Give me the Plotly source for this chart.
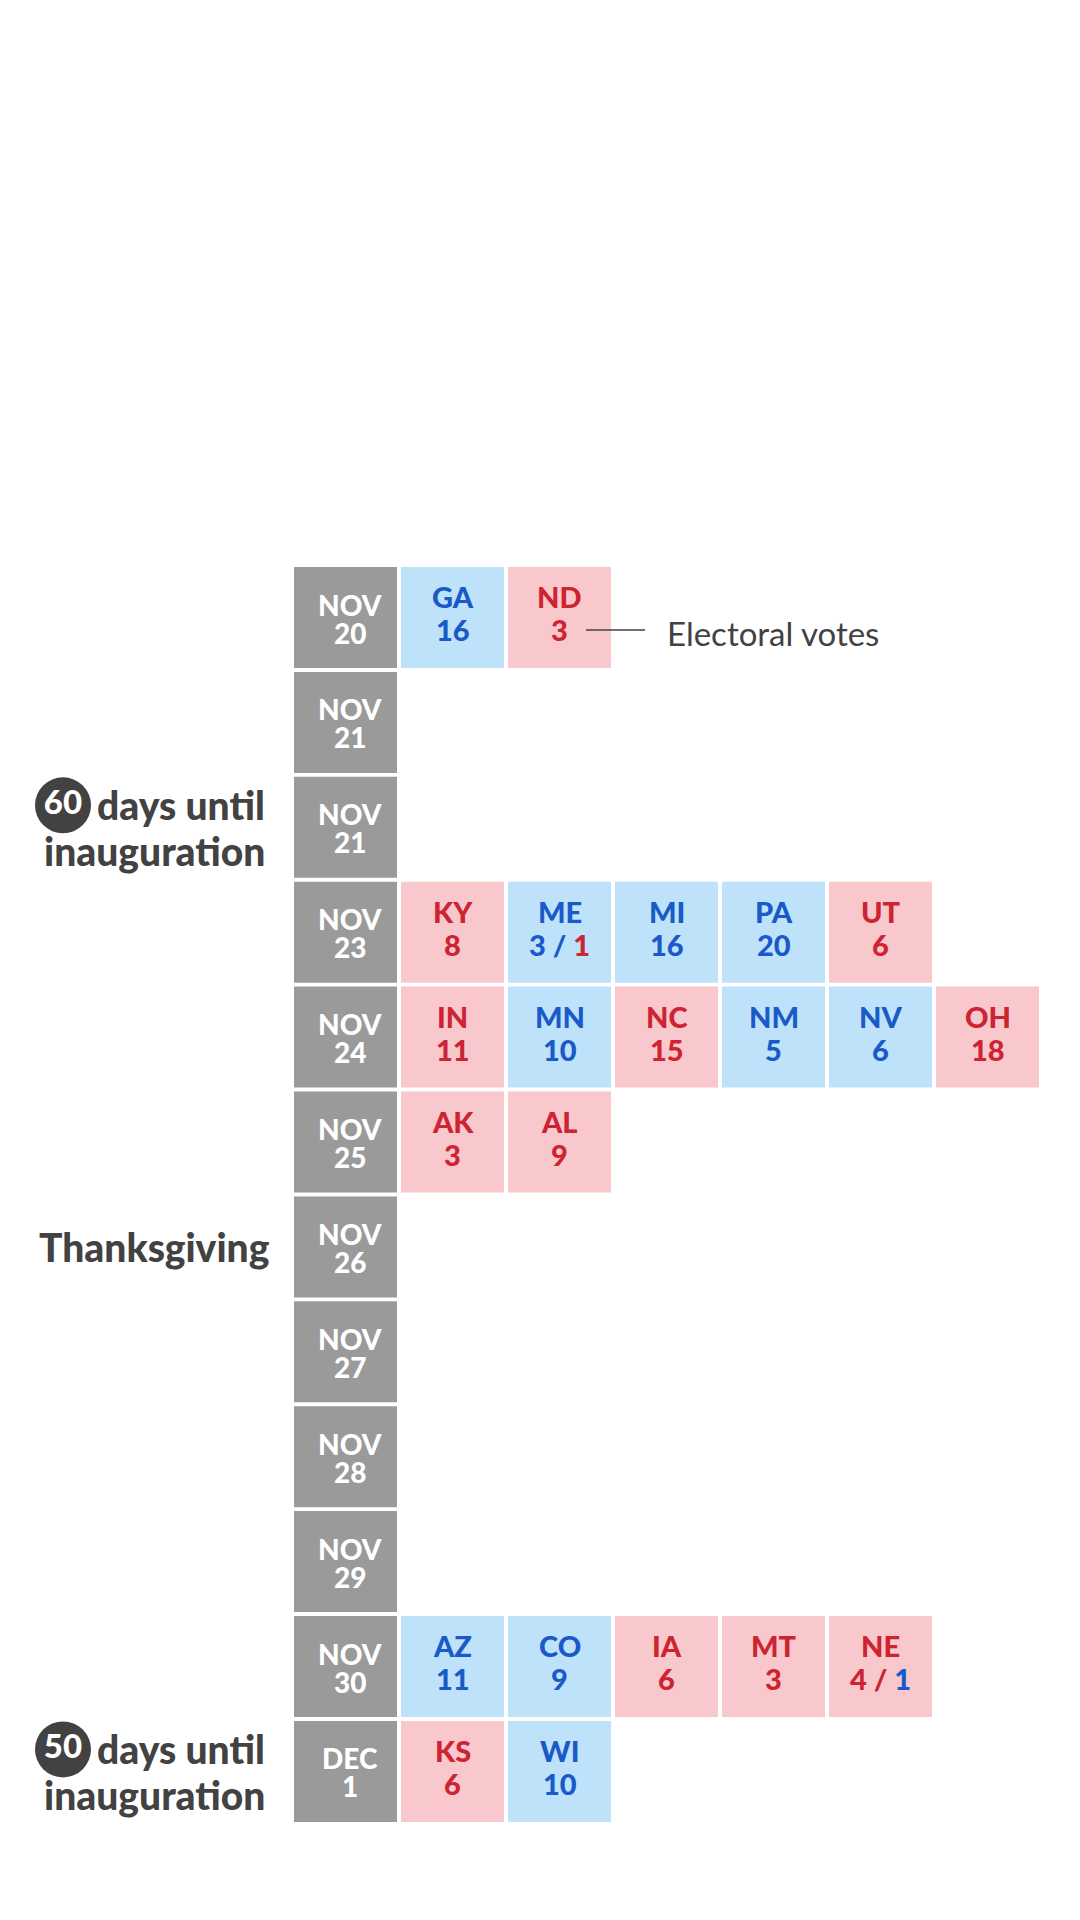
import plotly.graph_objects as go

# ---------------- data ----------------
date_month = ["NOV", "NOV", "NOV", "NOV", "NOV", "NOV", "NOV", "NOV", "NOV", "NOV", "NOV", "DEC"]
date_day = ["20", "21", "21", "23", "24", "25", "26", "27", "28", "29", "30", "1"]

state_abbr = ["GA", "ND", "KY", "ME", "MI", "PA", "UT", "IN", "MN", "NC", "NM", "NV", "OH",
              "AK", "AL", "AZ", "CO", "IA", "MT", "NE", "KS", "WI"]
state_row = [0, 0, 3, 3, 3, 3, 3, 4, 4, 4, 4, 4, 4, 5, 5, 10, 10, 10, 10, 10, 11, 11]
state_party = ["D", "R", "R", "D", "D", "D", "R", "R", "D", "R", "D", "D", "R",
               "R", "R", "D", "D", "R", "R", "R", "R", "D"]
state_votes = [16, 3, 8, 3, 16, 20, 6, 11, 10, 15, 5, 6, 18, 3, 9, 11, 9, 6, 3, 4, 6, 10]
state_split = [None, None, None, 1, None, None, None, None, None, None, None, None, None,
               None, None, None, None, None, None, 1, None, None]

milestone_rows = [2, 11]
milestone_days = ["60", "50"]
holiday_rows = [6]
holiday_names = ["Thanksgiving"]
legend_text = "Electoral votes"
legend_state = "ND"

# ---------------- style ----------------
W, H = 1080, 1920
COL_PITCH, ROW_PITCH = 107.0, 104.9
COL0_PX, ROW0_PX = 345.5, 617.5
HALF_W = 51.5 / COL_PITCH
HALF_H = 50.5 / ROW_PITCH

GRAY = "#9a9a9a"
BG = {"D": "#bee2fa", "R": "#f8c8cc"}
FG = {"D": "#195ac8", "R": "#cd2332"}
OPP = {"D": "R", "R": "D"}
DARK = "#424242"
FONT = "Lato"
HEAVY = 900


def px_x(p):  # pixel -> x units
    return (p - COL0_PX) / COL_PITCH


def px_y(p):  # pixel offset -> y units
    return p / ROW_PITCH


fig = go.Figure()
shapes = []
annotations = []

# date column
for r, (m, d) in enumerate(zip(date_month, date_day)):
    shapes.append(dict(type="rect", xref="x", yref="y", x0=-HALF_W, x1=HALF_W,
                       y0=r - HALF_H, y1=r + HALF_H, fillcolor=GRAY, line=dict(width=0),
                       layer="below"))
    annotations.append(dict(x=px_x(COL0_PX + 4), y=r + px_y(-13), text=m, showarrow=False,
                            font=dict(family=FONT, size=28, color="white", weight=HEAVY),
                            xanchor="center", yanchor="middle"))
    annotations.append(dict(x=px_x(COL0_PX + 4), y=r + px_y(15), text=d, showarrow=False,
                            font=dict(family=FONT, size=28, color="white", weight=HEAVY),
                            xanchor="center", yanchor="middle"))

# state cells
col_counter = {}
state_pos = {}
for ab, r, p, v, s in zip(state_abbr, state_row, state_party, state_votes, state_split):
    c = col_counter.get(r, 0) + 1
    col_counter[r] = c
    state_pos[ab] = (c, r)
    shapes.append(dict(type="rect", xref="x", yref="y", x0=c - HALF_W, x1=c + HALF_W,
                       y0=r - HALF_H, y1=r + HALF_H, fillcolor=BG[p], line=dict(width=0),
                       layer="below"))
    annotations.append(dict(x=c, y=r + px_y(-21), text=ab, showarrow=False,
                            font=dict(family=FONT, size=29, color=FG[p], weight=HEAVY),
                            xanchor="center", yanchor="middle"))
    if s is None:
        vt = f"{v}"
    else:
        vt = f"{v} / <span style='color:{FG[OPP[p]]}'>{s}</span>"
    annotations.append(dict(x=c, y=r + px_y(12), text=vt, showarrow=False,
                            font=dict(family=FONT, size=29, color=FG[p], weight=HEAVY),
                            xanchor="center", yanchor="middle"))

# legend leader line + label
lc, lr = state_pos[legend_state]
shapes.append(dict(type="line", xref="x", yref="y", x0=px_x(586), x1=px_x(645),
                   y0=lr + px_y(12.5), y1=lr + px_y(12.5), line=dict(color=DARK, width=1.6)))
annotations.append(dict(x=px_x(665), y=lr + px_y(15), text=legend_text, showarrow=False,
                        font=dict(family=FONT, size=33, color=DARK),
                        xanchor="left", yanchor="middle"))

# milestone labels
for r, dnum in zip(milestone_rows, milestone_days):
    annotations.append(dict(x=px_x(267), y=r + px_y(-22), text="days until",
                            showarrow=False,
                            font=dict(family=FONT, size=39, color=DARK, weight=HEAVY),
                            xanchor="right", yanchor="middle"))
    annotations.append(dict(x=px_x(267), y=r + px_y(24), text="inauguration",
                            showarrow=False,
                            font=dict(family=FONT, size=39, color=DARK, weight=HEAVY),
                            xanchor="right", yanchor="middle"))
    fig.add_trace(go.Scatter(x=[px_x(63)], y=[r + px_y(-22)], mode="markers+text",
                             marker=dict(size=56, color=DARK, line=dict(width=0)),
                             text=[dnum], textposition="middle center",
                             textfont=dict(family=FONT, size=33, color="white", weight=HEAVY),
                             hoverinfo="skip", showlegend=False, cliponaxis=False))

for r, name in zip(holiday_rows, holiday_names):
    annotations.append(dict(x=px_x(272), y=r, text=name, showarrow=False,
                            font=dict(family=FONT, size=39, color=DARK, weight=HEAVY),
                            xanchor="right", yanchor="middle"))

fig.update_layout(
    width=W, height=H, margin=dict(l=0, r=0, t=0, b=0),
    paper_bgcolor="white", plot_bgcolor="white",
    shapes=shapes, annotations=annotations, showlegend=False,
    xaxis=dict(range=[px_x(0), px_x(W)], visible=False, fixedrange=True),
    yaxis=dict(range=[(H - ROW0_PX) / ROW_PITCH, -ROW0_PX / ROW_PITCH], visible=False,
               fixedrange=True),
)

fig.write_html("out.html", post_script="document.body.style.margin='0px';",
               config={"displayModeBar": False})
